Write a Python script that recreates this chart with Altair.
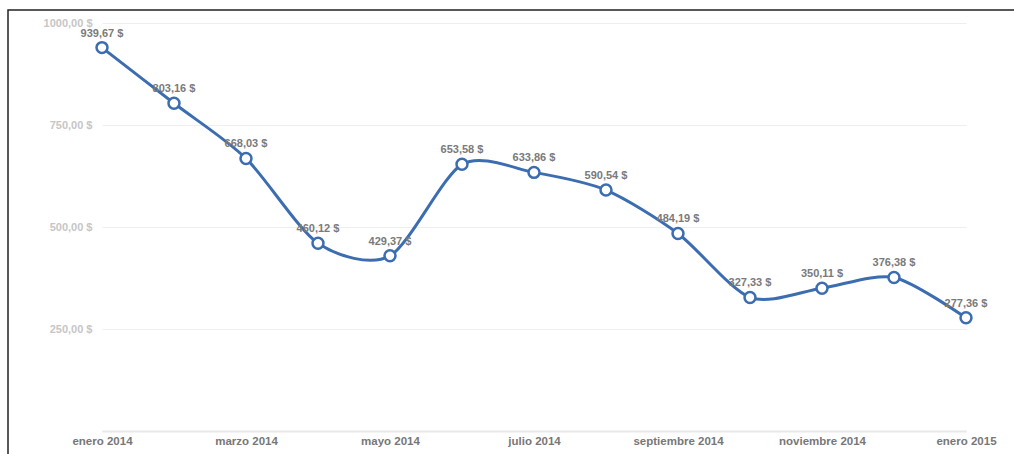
import altair as alt
import pandas as pd
import json

months = ["enero 2014", "febrero 2014", "marzo 2014", "abril 2014", "mayo 2014",
          "junio 2014", "julio 2014", "agosto 2014", "septiembre 2014",
          "octubre 2014", "noviembre 2014", "diciembre 2014", "enero 2015"]
prices = [939.67, 803.16, 668.03, 460.12, 429.37, 653.58, 633.86, 590.54,
          484.19, 327.33, 350.11, 376.38, 277.36]
y_ticks = [0, 250, 500, 750, 1000]
x_ticks = [0, 2, 4, 6, 8, 10, 12]

df = pd.DataFrame({
    "idx": list(range(len(months))),
    "mes": months,
    "precio": prices,
})
df["etiqueta"] = [f"{v:.2f}".replace(".", ",") + " $" for v in prices]

FONT = "Liberation Sans"
BLUE = "#3b6db0"
month_js = json.dumps(months)

x = alt.X("idx:Q",
          scale=alt.Scale(domain=[0, 12], nice=False, zero=False),
          axis=alt.Axis(values=x_ticks, title=None, grid=False, ticks=False,
                        labelExpr=f"{month_js}[datum.value]",
                        labelFont=FONT, labelFontSize=11.5, labelColor="#777",
                        labelFontWeight="bold",
                        labelPadding=4, domainColor="#e8e8e8", domainWidth=2,
                        labelFlush=False))
y = alt.Y("precio:Q",
          scale=alt.Scale(domain=[0, 1000], nice=False),
          axis=alt.Axis(values=y_ticks, title=None, ticks=False, domain=False,
                        labelExpr="datum.value == 0 ? '' : replace(format(datum.value, '.2f'), '.', ',') + ' $'",
                        labelFont=FONT, labelFontSize=11, labelColor="#c6c6c6",
                        labelFontWeight="bold",
                        labelPadding=10, gridColor="#eeeeee", gridWidth=1))

base = alt.Chart(df)

line = base.mark_line(interpolate="cardinal", tension=0.2, color=BLUE, strokeWidth=3).encode(x=x, y=y)
points = base.mark_point(filled=True, fill="white", stroke=BLUE, strokeWidth=2.5,
                         size=120, opacity=1, shape="circle").encode(x=x, y=y)
labels = base.mark_text(dy=-14, font=FONT, fontSize=11, fontWeight="bold",
                        color="#7a7a7a").encode(x=x, y=y, text="etiqueta:N")

frame = alt.Chart(pd.DataFrame({"k": [0]})).mark_rect(
    filled=False, fill=None, stroke="#222", strokeWidth=1.5).encode(
    x=alt.value(-94), x2=alt.value(960), y=alt.value(-13), y2=alt.value(480))

chart = alt.layer(frame, line, points, labels).properties(
    width=864, height=408,
    autosize=alt.AutoSizeParams(type="none"),
    padding={"left": 102, "top": 23, "right": 48, "bottom": 23},
    background="white",
).configure_view(stroke=None, clip=False).configure_axisX(grid=False, ticks=False).configure_axisY(domain=False, ticks=False)

chart.save("out.html", embed_options={"renderer": "svg", "actions": False})
